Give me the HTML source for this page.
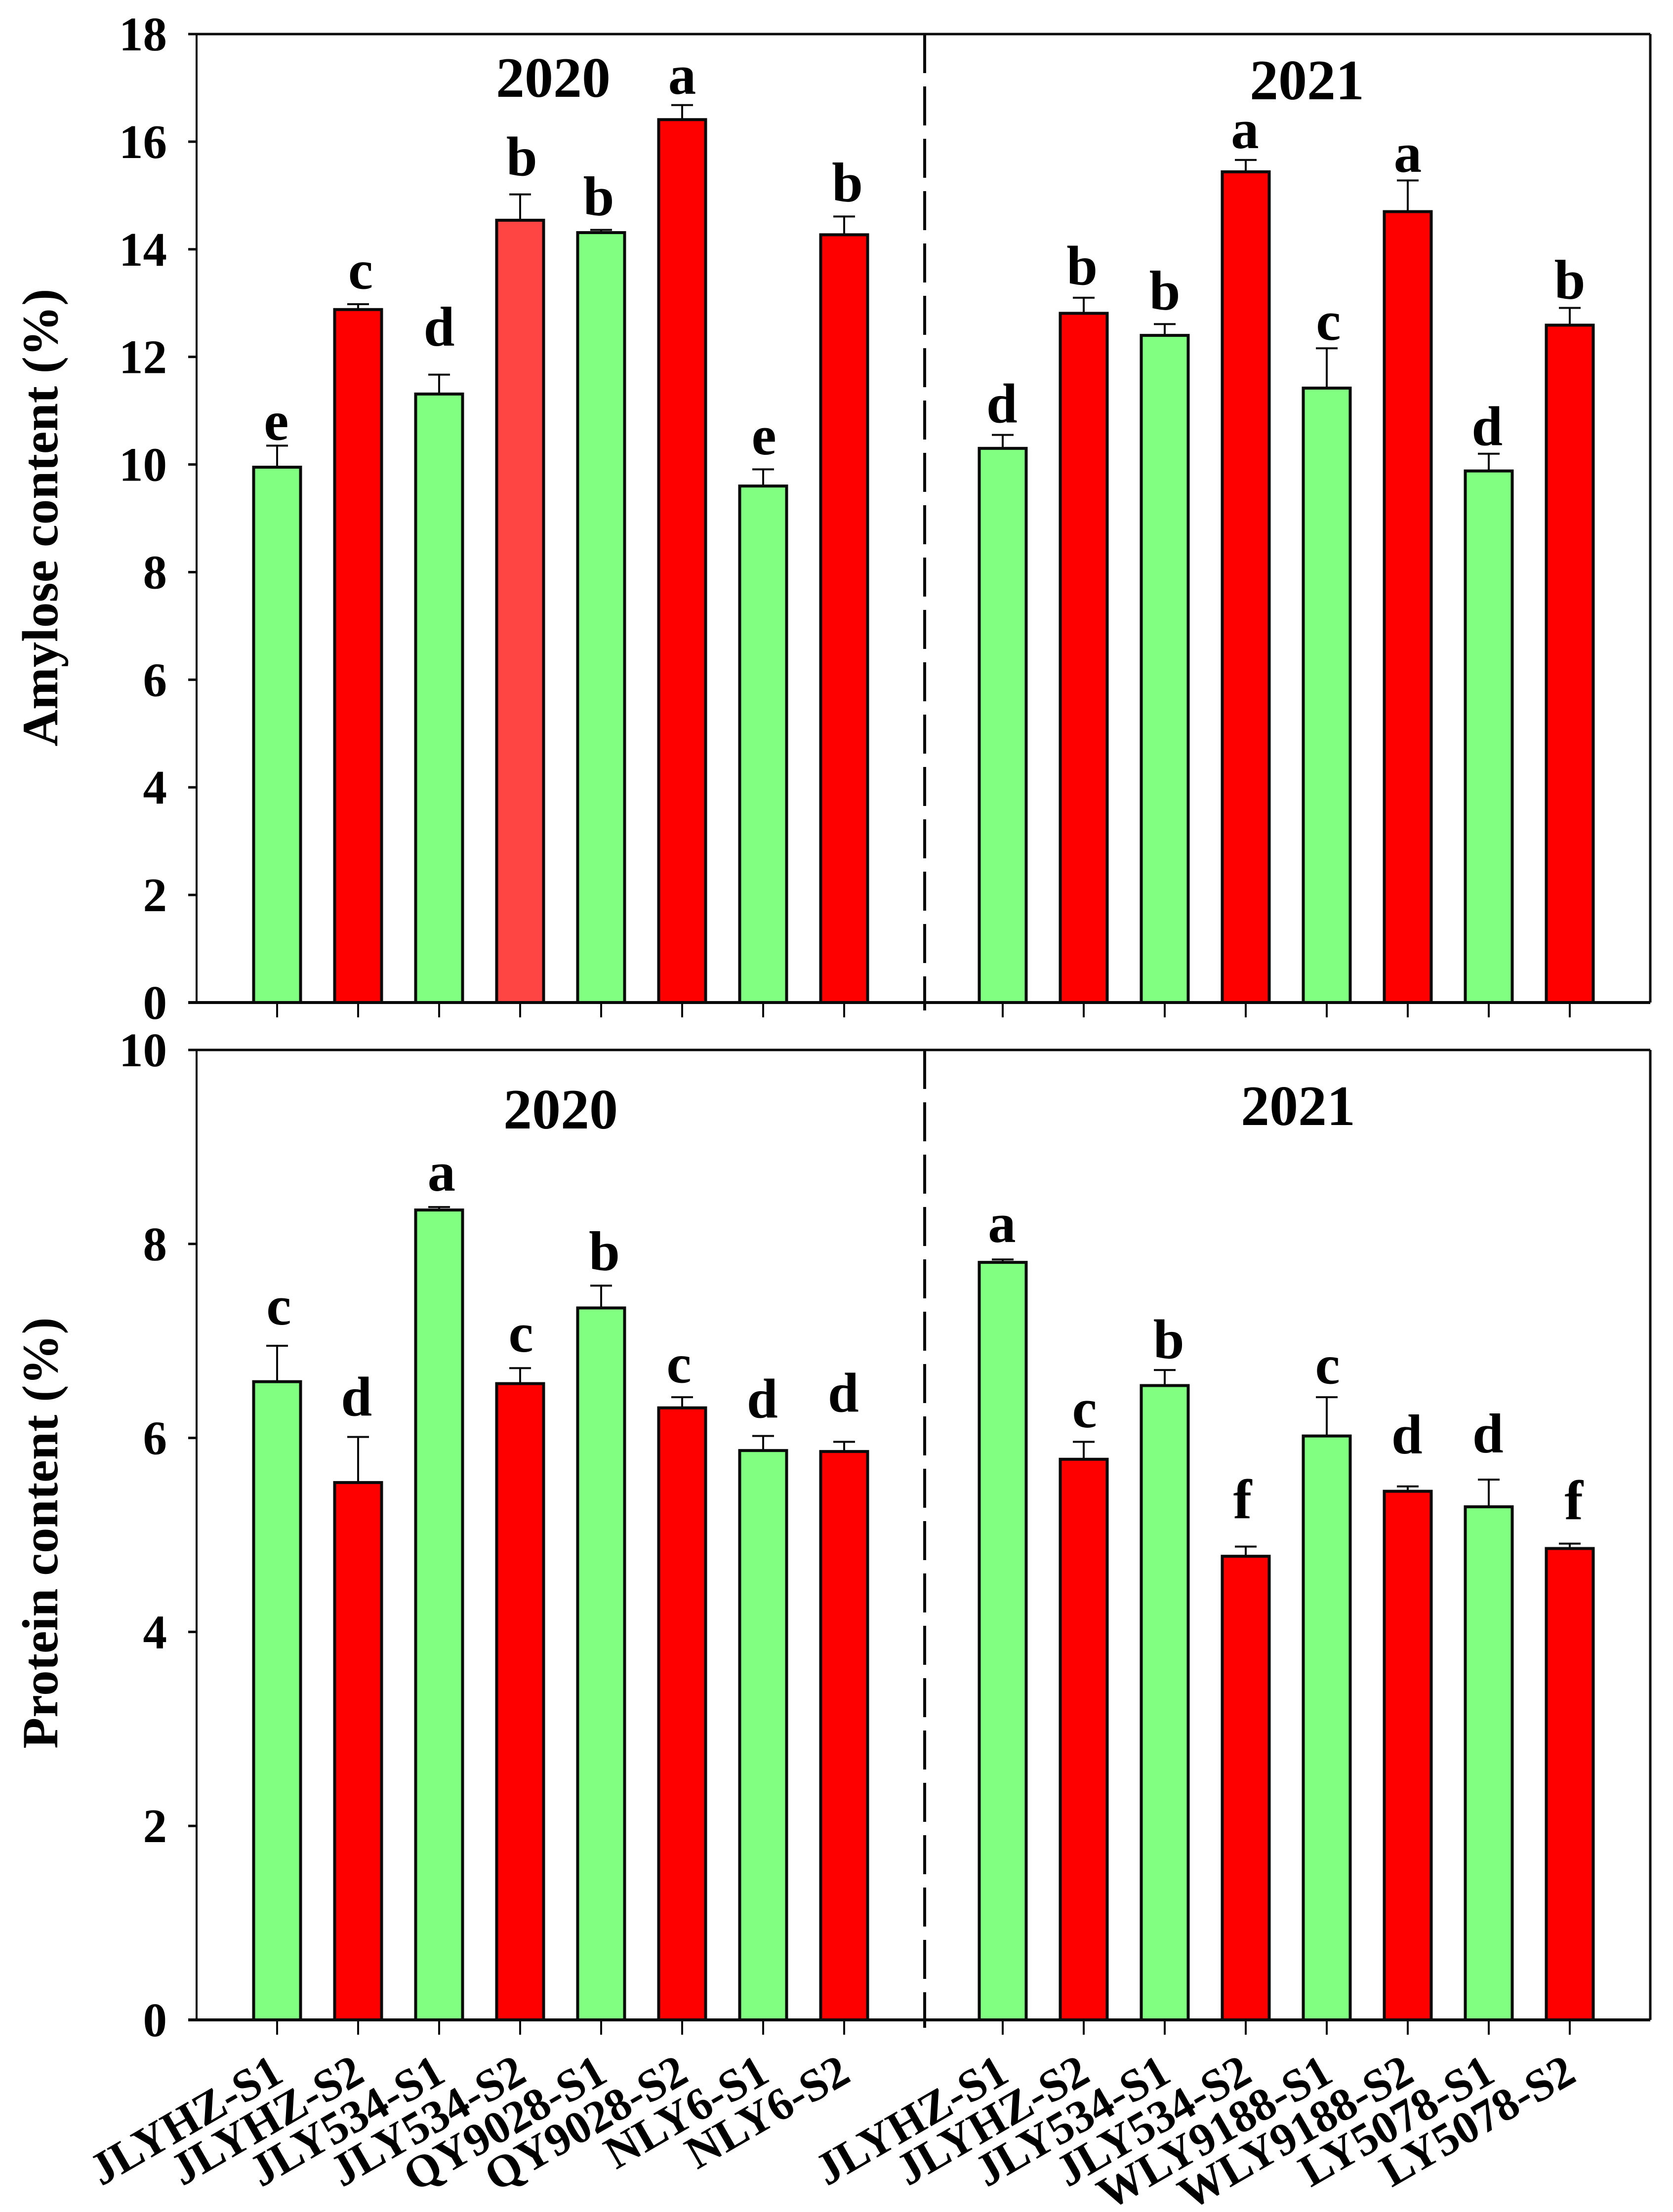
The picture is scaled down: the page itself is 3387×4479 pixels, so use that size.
<!DOCTYPE html>
<html lang="en">
<head>
<meta charset="utf-8">
<title>Amylose and protein content by cultivar, 2020 and 2021</title>
<style>
html,body{margin:0;padding:0;background:#fff;}
svg{display:block;}
text{font-family:"Liberation Serif",serif;font-weight:bold;fill:#000;}
</style>
</head>
<body>
<svg id="chart" xmlns="http://www.w3.org/2000/svg" width="3387" height="4479" viewBox="0 0 3387 4479"></svg>
<script>
const categories2020 = ['JLYHZ-S1','JLYHZ-S2','JLY534-S1','JLY534-S2','QY9028-S1','QY9028-S2','NLY6-S1','NLY6-S2'];
const categories2021 = ['JLYHZ-S1','JLYHZ-S2','JLY534-S1','JLY534-S2','WLY9188-S1','WLY9188-S2','LY5078-S1','LY5078-S2'];

const amyloseTicks = [0,2,4,6,8,10,12,14,16,18];
const proteinTicks = [0,2,4,6,8,10];

const amylose2020 = [9.95,12.88,11.31,14.54,14.31,16.41,9.60,14.27];
const amylose2020Err = [0.40,0.10,0.36,0.48,0.05,0.27,0.31,0.34];
const amylose2020Letters = ['e','c','d','b','b','a','e','b'];
const amylose2020Lift = [0.11,0.29,0.54,0.35,0.27,0.21,0.28,0.28];
const amylose2020Shift = [-0.01,0.03,0,0.02,-0.03,0,0.01,0.04];

const amylose2021 = [10.30,12.81,12.40,15.44,11.42,14.70,9.88,12.59];
const amylose2021Err = [0.25,0.29,0.21,0.22,0.74,0.58,0.32,0.32];
const amylose2021Letters = ['d','b','b','a','c','a','d','b'];
const amylose2021Lift = [0.23,0.24,0.27,0.22,0.16,0.16,0.16,0.17];
const amylose2021Shift = [-0.01,-0.02,0,-0.01,0.02,0,-0.02,0];

const protein2020 = [6.58,5.54,8.35,6.56,7.34,6.31,5.87,5.86];
const protein2020Err = [0.37,0.47,0.03,0.16,0.23,0.11,0.15,0.10];
const protein2020Letters = ['c','d','a','c','b','c','d','d'];
const protein2020Lift = [0.22,0.22,0.17,0.17,0.16,0.15,0.19,0.31];
const protein2020Shift = [0.02,-0.02,0.03,0.01,0.04,-0.04,-0.01,-0.01];

const protein2021 = [7.81,5.78,6.54,4.78,6.02,5.45,5.29,4.86];
const protein2021Err = [0.03,0.18,0.16,0.10,0.40,0.05,0.28,0.05];
const protein2021Letters = ['a','c','b','f','c','d','d','f'];
const protein2021Lift = [0.18,0.15,0.12,0.29,0.14,0.34,0.28,0.25];
const protein2021Shift = [-0.01,0.01,0.05,-0.04,0.01,-0.01,-0.01,0.05];

const NS = 'http://www.w3.org/2000/svg';
const svg = document.getElementById('chart');
const INK = '#0a0a0a';
const AXIS_LEFT = 398, AXIS_RIGHT = 3341, DIVIDER_X = 1872;
const STEP = 164, START_2020 = 561, START_2021 = 2030;
const BAR_WIDTH = 95, CAP_WIDTH = 44;

function make(tag, attrs, txt) {
  const el = document.createElementNS(NS, tag);
  for (const k in attrs) el.setAttribute(k, attrs[k]);
  if (txt !== undefined) el.textContent = txt;
  svg.appendChild(el);
  return el;
}

function drawGroup(key, year, start, yScale, categories, values, errors, letters, lifts, shifts, highlight) {
  categories.forEach(function (cat, i) {
    const cx = start + i * STEP;
    const isS1 = /S1$/.test(cat);
    const fill = highlight === i ? '#ff4444' : (isS1 ? '#80ff80' : '#ff0000');
    const yTop = yScale(values[i]);
    const yErr = yScale(values[i] + errors[i]);

    const bar = make('rect', {x: cx - BAR_WIDTH / 2, y: yTop, width: BAR_WIDTH, height: yScale(0) - yTop, fill: fill, stroke: INK, 'stroke-width': 6});
    
    

    const stem = make('line', {x1: cx, x2: cx, y1: yTop, y2: yErr, stroke: INK, 'stroke-width': 4});
    
    

    const cap = make('line', {x1: cx - CAP_WIDTH / 2, x2: cx + CAP_WIDTH / 2, y1: yErr, y2: yErr, stroke: INK, 'stroke-width': 4});
    
    

    const letter = make('text', {x: cx + shifts[i] * STEP, y: yScale(values[i] + errors[i] + lifts[i]), 'text-anchor': 'middle', 'font-size': 113}, letters[i]);
    
    
  });
}

function drawFrame(key, top, bottom, yScale, ticks) {
  const frameLines = [
    ['top', 381, top, AXIS_RIGHT, top, 5],
    ['bottom', 381, bottom, AXIS_RIGHT, bottom, 6],
    ['left', AXIS_LEFT, top, AXIS_LEFT, bottom, 4],
    ['right', AXIS_RIGHT, top, AXIS_RIGHT, bottom, 5]
  ];
  frameLines.forEach(function (f) {
    const line = make('line', {x1: f[1], y1: f[2], x2: f[3], y2: f[4], stroke: INK, 'stroke-width': f[5]});
    
    
  });

  const divider = make('line', {x1: DIVIDER_X, x2: DIVIDER_X, y1: top, y2: bottom + 16, stroke: INK, 'stroke-width': 6, 'stroke-dasharray': '79 27'});
  
  

  ticks.forEach(function (t) {
    const y = yScale(t);
    const tick = make('line', {x1: 381, x2: AXIS_LEFT, y1: y, y2: y, stroke: INK, 'stroke-width': 5});
    
    

    const label = make('text', {x: 338, y: y + 33, 'text-anchor': 'end', 'font-size': 97}, String(t));
    
    
  });

  [START_2020, START_2021].forEach(function (start) {
    for (let i = 0; i < 8; i++) {
      const cx = start + i * STEP;
      const tick = make('line', {x1: cx, x2: cx, y1: bottom, y2: bottom + 30, stroke: INK, 'stroke-width': 4});
      
      
    }
  });
}

/* Amylose panel */
const amyTop = 69, amyBottom = 2030, amyMax = 18;
function yAmylose(v) { return amyBottom - v / amyMax * (amyBottom - amyTop); }
drawGroup('amylose', 2020, START_2020, yAmylose, categories2020, amylose2020, amylose2020Err, amylose2020Letters, amylose2020Lift, amylose2020Shift, 3);
drawGroup('amylose', 2021, START_2021, yAmylose, categories2021, amylose2021, amylose2021Err, amylose2021Letters, amylose2021Lift, amylose2021Shift, -1);
drawFrame('amylose', amyTop, amyBottom, yAmylose, amyloseTicks);

/* Protein panel */
const proTop = 2126, proBottom = 4090, proMax = 10;
function yProtein(v) { return proBottom - v / proMax * (proBottom - proTop); }
drawGroup('protein', 2020, START_2020, yProtein, categories2020, protein2020, protein2020Err, protein2020Letters, protein2020Lift, protein2020Shift, -1);
drawGroup('protein', 2021, START_2021, yProtein, categories2021, protein2021, protein2021Err, protein2021Letters, protein2021Lift, protein2021Shift, -1);
drawFrame('protein', proTop, proBottom, yProtein, proteinTicks);

/* Category labels under the lower panel */
function drawCategoryLabels(start, categories) {
  categories.forEach(function (cat, i) {
    const x = start + i * STEP + 17;
    const label = make('text', {x: x, y: 4212, 'text-anchor': 'end', 'font-size': 93, transform: 'rotate(-30 ' + x + ' 4212)'}, cat);
    
    
  });
}
drawCategoryLabels(START_2020, categories2020);
drawCategoryLabels(START_2021, categories2021);
</script>
<script>
/* Titles and axis titles */
(function () {
  const t1 = make('text', {x: 1120, y: 196, 'text-anchor': 'middle', 'font-size': 116}, '2020');
  
  

  const t2 = make('text', {x: 2646, y: 201, 'text-anchor': 'middle', 'font-size': 116}, '2021');
  
  

  const t3 = make('text', {x: 1135, y: 2285, 'text-anchor': 'middle', 'font-size': 116}, '2020');
  
  

  const t4 = make('text', {x: 2628, y: 2278, 'text-anchor': 'middle', 'font-size': 116}, '2021');
  
  

  const a1 = make('text', {x: 0, y: 0, 'text-anchor': 'middle', 'font-size': 103, transform: 'translate(116 1048) rotate(-90)'}, 'Amylose content (%)');
  
  

  const a2 = make('text', {x: 0, y: 0, 'text-anchor': 'middle', 'font-size': 103, transform: 'translate(116 3104) rotate(-90)'}, 'Protein content (%)');
  
  
})();
</script>
</body>
</html>
